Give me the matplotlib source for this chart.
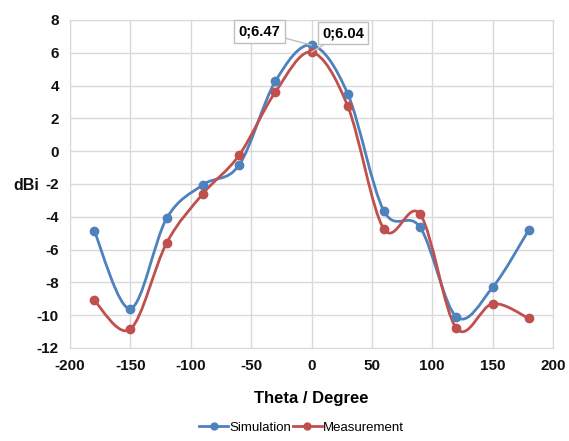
import numpy as np
import matplotlib
matplotlib.use('Agg')
import matplotlib.pyplot as plt
from matplotlib.path import Path
from matplotlib.patches import PathPatch

plt.rcParams['axes.unicode_minus'] = False
plt.rcParams['font.family'] = ['Liberation Sans', 'DejaVu Sans']

# Data
theta = [-180, -150, -120, -90, -60, -30, 0, 30, 60, 90, 120, 150, 180]
simulation = [-4.85, -9.6, -4.1, -2.05, -0.85, 4.25, 6.47, 3.5, -3.65, -4.65, -10.1, -8.3, -4.8]
measurement = [-9.1, -10.85, -5.6, -2.6, -0.25, 3.6, 6.04, 2.75, -4.75, -3.85, -10.8, -9.3, -10.2]

BLUE = '#4F81BD'
RED = '#C0504D'
GRID = '#d9d9d9'


def smooth_path(x, y):
    """Excel-like smoothed line: Catmull-Rom segments as cubic Bezier curves."""
    pts = np.column_stack([x, y]).astype(float)
    ext = np.vstack([pts[0], pts, pts[-1]])
    verts = [pts[0]]
    codes = [Path.MOVETO]
    for i in range(1, len(ext) - 2):
        p0, p1, p2, p3 = ext[i - 1], ext[i], ext[i + 1], ext[i + 2]
        verts += [p1 + (p2 - p0) / 6, p2 - (p3 - p1) / 6, p2]
        codes += [Path.CURVE4] * 3
    return Path(verts, codes)


fig = plt.figure(figsize=(5.69, 4.41), dpi=100)
ax = fig.add_axes([70 / 569, 1 - 348 / 441, 483 / 569, 328 / 441])

for ys, col, lab in [(simulation, BLUE, 'Simulation'), (measurement, RED, 'Measurement')]:
    ax.add_patch(PathPatch(smooth_path(theta, ys), facecolor='none',
                           edgecolor=col, lw=2, zorder=3))
    ax.plot(theta, ys, 'o', color=col, ms=6, zorder=4)
    ax.plot([], [], '-o', color=col, lw=2, ms=5, label=lab)

ax.set_xlim(-200, 200)
ax.set_ylim(-12, 8)
ax.set_xticks(np.arange(-200, 201, 50))
ax.set_yticks(np.arange(-12, 9, 2))
ax.grid(True, color=GRID, lw=1)
ax.set_axisbelow(True)
for s in ax.spines.values():
    s.set_color(GRID)
ax.tick_params(length=0, labelsize=11, pad=8, labelcolor='#111111')
for t in ax.get_xticklabels() + ax.get_yticklabels():
    t.set_fontweight('bold')

ax.set_xlabel('Theta / Degree', fontsize=12, fontweight='bold', labelpad=13)
fig.text(26 / 569, 1 - 186 / 441, 'dBi', fontsize=11.5, fontweight='bold',
         ha='center', va='center', color='#111111')

box = dict(boxstyle='square,pad=0.3', fc='white', ec='#bfbfbf', lw=1)
ax.annotate('0;6.47', xy=(0, 6.47), xytext=(-43, 7.3), fontsize=10.5, fontweight='bold',
            ha='center', va='center', bbox=box, zorder=5,
            arrowprops=dict(arrowstyle='-', color='#bfbfbf', lw=1, shrinkA=0, shrinkB=0))
ax.annotate('0;6.04', xy=(0, 6.04), xytext=(26, 7.2), fontsize=10.5, fontweight='bold',
            ha='center', va='center', bbox=box, zorder=5,
            arrowprops=dict(arrowstyle='-', color='#bfbfbf', lw=1, shrinkA=0, shrinkB=0))

fig.legend(loc='lower center', bbox_to_anchor=(0.53, -0.01), ncol=2, frameon=False,
           fontsize=9.5, handlelength=2.2, handletextpad=0.1, columnspacing=0.1)

fig.savefig('out.png', dpi=100)
